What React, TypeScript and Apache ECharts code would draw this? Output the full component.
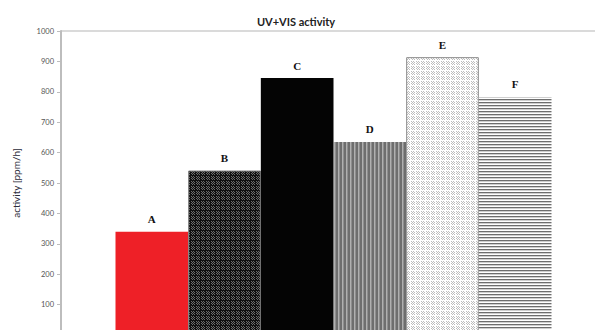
import React, { useEffect, useRef } from "react";
import * as echarts from "echarts";

// Photocatalytic activity per sample under UV+VIS light
const sampleNames = ["A", "B", "C", "D", "E", "F"];
const activityValues = [340, 541, 845, 635, 914, 783];
const yTicks = { min: 0, max: 1000, step: 100 };

// Build a small repeating tile as a data URL from a pixel colour function
function makeTile(w: number, h: number, px: (x: number, y: number) => string): string {
  const c = document.createElement("canvas");
  c.width = w;
  c.height = h;
  const ctx = c.getContext("2d")!;
  for (let y = 0; y < h; y++) {
    for (let x = 0; x < w; x++) {
      ctx.fillStyle = px(x, y);
      ctx.fillRect(x, y, 1, 1);
    }
  }
  return c.toDataURL();
}

function barFills(): any[] {
  const darkChecker = makeTile(5, 5, (x, y) =>
    x === 0 || y === 0 ? "#101010" : (x + y) % 2 === 0 ? "#6c6c6c" : "#101010"
  );
  const vStripes = makeTile(4, 1, (x) => ["#6e6e6e", "#6e6e6e", "#b0b0b0", "#8e8e8e"][x]);
  const lightChecker = makeTile(5, 5, (x, y) =>
    x === 0 || y === 0 ? "#ffffff" : (x + y) % 2 === 0 ? "#bdbdbd" : "#ffffff"
  );
  const hStripes = makeTile(1, 3, (_x, y) => ["#6e6e6e", "#cfcfcf", "#ffffff"][y]);
  return [
    { color: "#ee2027", borderColor: "#ee2027", borderWidth: 0 },
    { color: { image: darkChecker, repeat: "repeat" }, borderColor: "#7f7f7f", borderWidth: 1 },
    { color: "#040404", borderColor: "#040404", borderWidth: 0 },
    { color: { image: vStripes, repeat: "repeat" }, borderColor: "#7f7f7f", borderWidth: 0 },
    { color: { image: lightChecker, repeat: "repeat" }, borderColor: "#8c8c8c", borderWidth: 1 },
    { color: { image: hStripes, repeat: "repeat" }, borderColor: "#8c8c8c", borderWidth: 0 },
  ];
}

export default function App() {
  const ref = useRef<HTMLDivElement>(null);

  useEffect(() => {
    if (!ref.current) return;
    const chart = echarts.init(ref.current, undefined, { renderer: "svg" });
    const fills = barFills();
    chart.setOption({
      animation: false,
      backgroundColor: "#ffffff",
      title: {
        text: "UV+VIS activity",
        left: 291,
        top: 11,
        textAlign: "center",
        textStyle: { fontFamily: "Lato", fontWeight: "bold", fontSize: 11, color: "#222222" },
      },
      // plot area runs past the right and bottom edges of the canvas
      grid: {
        left: 61,
        top: 31,
        right: -11,
        bottom: -5,
        outerBoundsMode: "none",
        containLabel: false,
        show: true,
        borderColor: "#b5b5b5",
        borderWidth: 1,
        backgroundColor: "transparent",
      },
      xAxis: {
        type: "category",
        data: [""],
        show: false,
      },
      yAxis: {
        type: "value",
        min: yTicks.min,
        max: yTicks.max,
        interval: yTicks.step,
        name: "activity [ppm/h]",
        nameLocation: "middle",
        nameGap: 40,
        nameTextStyle: { fontFamily: "Lato", fontSize: 10, color: "#2b2b3a" },
        axisLine: { show: true, lineStyle: { color: "#bdbdbd", width: 2 } },
        axisTick: { show: true, length: 4, lineStyle: { color: "#bdbdbd" } },
        axisLabel: {
          fontFamily: "Lato",
          fontSize: 7.5,
          color: "#555555",
          margin: 7,
          formatter: (v: number) => (v === 0 ? "" : String(v)),
        },
        splitLine: { show: false },
      },
      series: sampleNames.map((name, i) => ({
        type: "bar",
        name,
        data: [activityValues[i]],
        barGap: "0%",
        barCategoryGap: "20%",
        itemStyle: fills[i],
        label: {
          show: true,
          position: "top",
          distance: 7,
          formatter: "{a}",
          fontFamily: "Liberation Serif",
          fontWeight: "bold",
          fontSize: 11,
          color: "#111111",
        },
      })),
    });
    return () => chart.dispose();
  }, []);

  return (
    <div
      ref={ref}
      style={{ position: "fixed", left: 0, top: 0, width: 595, height: 330 }}
    />
  );
}
